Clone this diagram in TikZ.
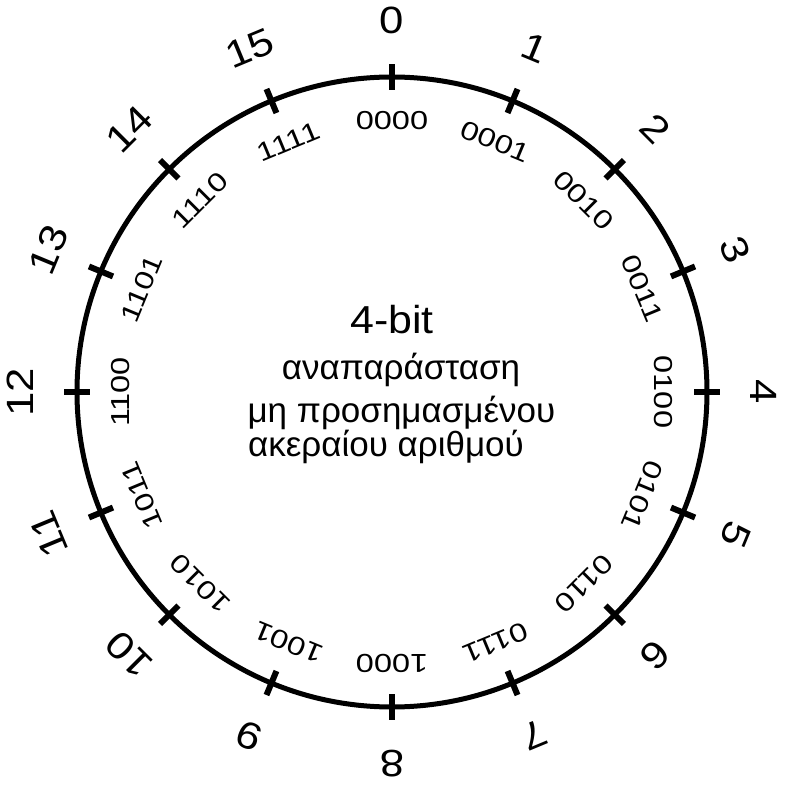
\documentclass[tikz,border=0pt]{standalone}
\usepackage{fontspec}
\setmainfont{Liberation Sans}
\newfontfamily\ringfont{Liberation Sans}[FakeStretch=1.15]
\newfontfamily\binfont{Liberation Sans}[FakeStretch=1.25]
\newfontfamily\midfont{Liberation Sans}[FakeStretch=1.1]
\tikzset{%
  ringline/.style={line width=5pt},
  ringtick/.style={line width=6pt},
  ringnum/.style={inner sep=0pt,font=\ringfont\fontsize{38}{38}\selectfont},
  ringbin/.style={inner sep=0pt,font=\binfont\fontsize{26}{26}\selectfont},
  midtitle/.style={inner sep=0pt,font=\midfont\fontsize{39}{39}\selectfont},
  midline/.style={inner sep=0pt,anchor=base,font=\fontsize{35}{35}\selectfont}
}
\begin{document}
\begin{tikzpicture}[x=1pt,y=1pt]
  \useasboundingbox (-392,-397) rectangle (394,392);
  \draw[ringline] (0,0) circle (315);
  \foreach \i/\b in {0/0000,1/0001,2/0010,3/0011,4/0100,5/0101,6/0110,7/0111,
                     8/1000,9/1001,10/1010,11/1011,12/1100,13/1101,14/1110,15/1111}{
    \draw[ringtick] ({90-22.5*\i}:302) -- ({90-22.5*\i}:328);
    \node[ringnum,rotate=-22.5*\i] (num-\i) at ({90-22.5*\i}:372) {\i};
    \node[ringbin,rotate=-22.5*\i] (bin-\i) at ({90-22.5*\i}:271) {\b};
  }
  \node[midtitle] (title) at (0,72) {4-bit};
  \node[midline] (line1) at (9,12) {αναπαράσταση};
  \node[midline] (line2) at (9.5,-31) {μη προσημασμένου};
  \node[midline] (line3) at (-6,-65) {ακεραίου αριθμού};
\end{tikzpicture}
\end{document}
